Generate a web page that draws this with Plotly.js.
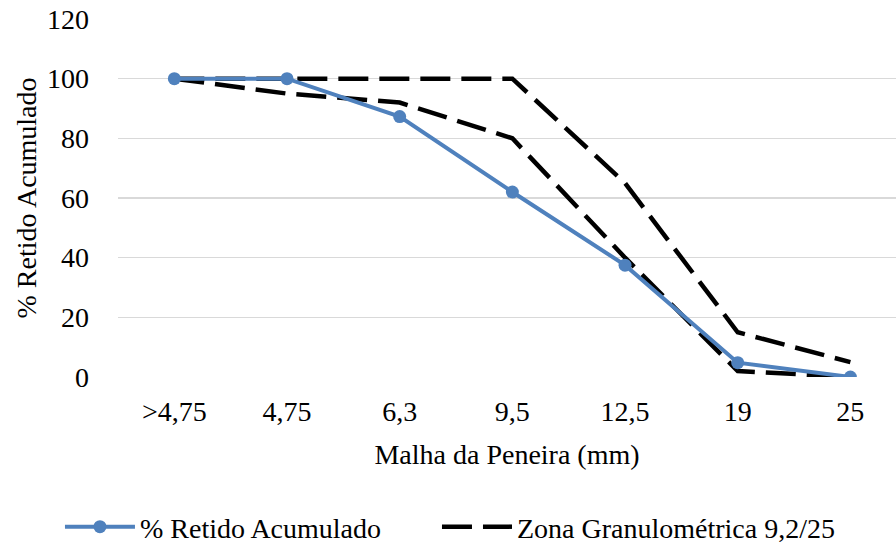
<!DOCTYPE html>
<html>
<head>
<meta charset="utf-8">
<script src="https://cdn.plot.ly/plotly-3.0.1.min.js"></script>
<style>html,body{margin:0;padding:0;background:#fff;}#chart{width:896px;height:543px;}</style>
</head>
<body>
<div id="chart"></div>
<script>
var categories = [">4,75", "4,75", "6,3", "9,5", "12,5", "19", "25"];
var retidoAcumulado = [100, 100, 87.3, 62, 37.5, 4.8, 0];
var zonaSuperior = [100, 100, 100, 100, 65, 15, 5];
var zonaInferior = [100, 95, 92, 80, 40, 2, 0];
var yTicks = [0, 20, 40, 60, 80, 100, 120];

var dash = "30px,11px";
var traces = [
  {x: categories, y: zonaSuperior, type: "scatter", mode: "lines", name: "Zona Granulométrica 9,2/25",
   line: {color: "#000000", width: 4.5, dash: dash}, showlegend: true, legend: "legend2"},
  {x: categories, y: zonaInferior, type: "scatter", mode: "lines", name: "Zona inferior",
   line: {color: "#000000", width: 4.5, dash: dash}, showlegend: false},
  {x: categories, y: retidoAcumulado, type: "scatter", mode: "lines+markers", name: "% Retido Acumulado",
   line: {color: "#4f81bd", width: 4}, marker: {color: "#4f81bd", size: 13}, legend: "legend"}
];

var font = {family: "Times New Roman, Liberation Serif, serif", size: 28, color: "#000000"};
var layout = {
  width: 896, height: 543,
  margin: {l: 118, r: 0, t: 19, b: 166, autoexpand: false},
  paper_bgcolor: "#ffffff", plot_bgcolor: "#ffffff",
  font: font,
  showlegend: true,
  legend: {orientation: "h", x: -0.0746, xanchor: "left", y: -0.419, yanchor: "middle",
           font: font, itemwidth: 70},
  legend2: {orientation: "h", x: 0.41, xanchor: "left", y: -0.419, yanchor: "middle",
           font: font, itemwidth: 70},
  xaxis: {type: "category", range: [-0.5, 6.405], showgrid: false, zeroline: false,
          showline: false, ticks: "", tickfont: font, ticklabelstandoff: 15, automargin: false,
          title: {text: "Malha da Peneira (mm)", font: font, standoff: 18}},
  yaxis: {range: [0, 120], tickvals: yTicks, ticktext: yTicks.map(String), showgrid: true,
          gridcolor: "#d9d9d9", gridwidth: 1.5, zeroline: false, showline: false, ticks: "",
          tickfont: font, ticklabelstandoff: 28, automargin: false,
          title: {text: "% Retido Acumulado", font: font, standoff: 2}}
};
Plotly.newPlot("chart", traces, layout, {staticPlot: true});
</script>
</body>
</html>
